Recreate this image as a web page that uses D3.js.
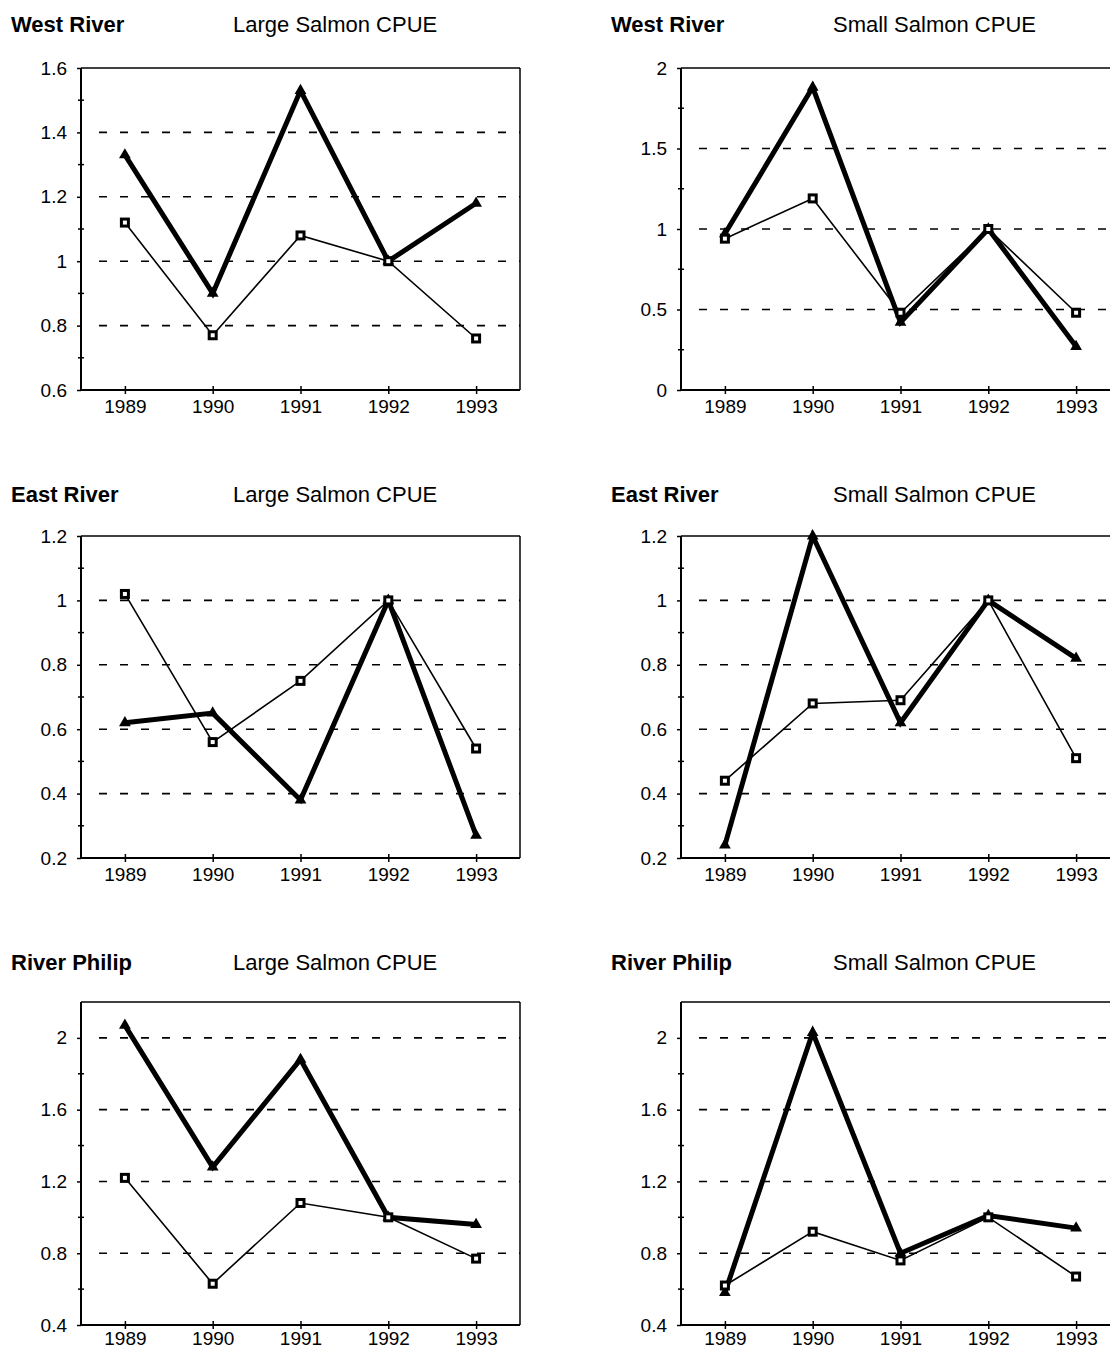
<!DOCTYPE html>
<html>
<head>
<meta charset="utf-8">
<script src="https://cdn.jsdelivr.net/npm/d3@7"></script>
<style>
  html, body { margin: 0; padding: 0; background: #fff; }
  svg { display: block; }
  text { font-family: "Liberation Sans", Arial, Helvetica, sans-serif; fill: #000; }
</style>
</head>
<body>
<svg id="chart" width="1110" height="1351"></svg>
<script>
// ---------------- data ----------------
const years = ["1989", "1990", "1991", "1992", "1993"];
const rivers = ["West River", "East River", "River Philip"];
const sizeTitles = ["Large Salmon CPUE", "Small Salmon CPUE"];

// thick line with triangle markers
const westLargeTri  = [1.33, 0.90, 1.53, 1.00, 1.18];
const westSmallTri  = [0.97, 1.88, 0.42, 1.00, 0.27];
const eastLargeTri  = [0.62, 0.65, 0.38, 1.00, 0.27];
const eastSmallTri  = [0.24, 1.20, 0.62, 1.00, 0.82];
const philipLargeTri = [2.07, 1.28, 1.88, 1.00, 0.96];
const philipSmallTri = [0.58, 2.03, 0.80, 1.01, 0.94];

// thin line with square markers
const westLargeSq  = [1.12, 0.77, 1.08, 1.00, 0.76];
const westSmallSq  = [0.94, 1.19, 0.48, 1.00, 0.48];
const eastLargeSq  = [1.02, 0.56, 0.75, 1.00, 0.54];
const eastSmallSq  = [0.44, 0.68, 0.69, 1.00, 0.51];
const philipLargeSq = [1.22, 0.63, 1.08, 1.00, 0.77];
const philipSmallSq = [0.62, 0.92, 0.76, 1.00, 0.67];

// y axes: domains, labelled ticks, dashed grid values, minor ticks
const westLargeDomain = [0.6, 1.6];
const westSmallDomain = [0, 2];
const eastDomain = [0.2, 1.2];
const philipDomain = [0.4, 2.2];

const westLargeTicks = [0.6, 0.8, 1, 1.2, 1.4, 1.6];
const westSmallTicks = [0, 0.5, 1, 1.5, 2];
const eastTicks = [0.2, 0.4, 0.6, 0.8, 1, 1.2];
const philipTicks = [0.4, 0.8, 1.2, 1.6, 2];

const westLargeGrid = [0.8, 1, 1.2, 1.4];
const westSmallGrid = [0.5, 1, 1.5];
const eastGrid = [0.4, 0.6, 0.8, 1];
const philipGrid = [0.8, 1.2, 1.6, 2];

const westLargeMinor = [0.7, 0.9, 1.1, 1.3, 1.5];
const westSmallMinor = [0.25, 0.75, 1.25, 1.75];
const eastMinor = [0.3, 0.5, 0.7, 0.9, 1.1];
const philipMinor = [0.6, 1.0, 1.4, 1.8];

const panels = [
  { row: 0, col: 0, tri: westLargeTri,  sq: westLargeSq,  domain: westLargeDomain, ticks: westLargeTicks, grid: westLargeGrid, minor: westLargeMinor },
  { row: 0, col: 1, tri: westSmallTri,  sq: westSmallSq,  domain: westSmallDomain, ticks: westSmallTicks, grid: westSmallGrid, minor: westSmallMinor },
  { row: 1, col: 0, tri: eastLargeTri,  sq: eastLargeSq,  domain: eastDomain, ticks: eastTicks, grid: eastGrid, minor: eastMinor },
  { row: 1, col: 1, tri: eastSmallTri,  sq: eastSmallSq,  domain: eastDomain, ticks: eastTicks, grid: eastGrid, minor: eastMinor },
  { row: 2, col: 0, tri: philipLargeTri, sq: philipLargeSq, domain: philipDomain, ticks: philipTicks, grid: philipGrid, minor: philipMinor },
  { row: 2, col: 1, tri: philipSmallTri, sq: philipSmallSq, domain: philipDomain, ticks: philipTicks, grid: philipGrid, minor: philipMinor }
];

// ---------------- layout ----------------
const cols = [{ x0: 81, x1: 520 }, { x0: 681, x1: 1120 }];
const rows = [
  { top: 68, bottom: 390, titleY: 32, pad: 6 },
  { top: 536, bottom: 858, titleY: 502, pad: 6 },
  { top: 1002, bottom: 1325, titleY: 970, pad: 3 }
];

const svg = d3.select("#chart");
const fmt = d3.format("~g");

panels.forEach(p => {
  const c = cols[p.col], r = rows[p.row];
  const x = d3.scalePoint().domain(years).range([c.x0, c.x1]).padding(0.5);
  const y = d3.scaleLinear().domain(p.domain).range([r.bottom, r.top]);
  const g = svg.append("g");

  // titles
  g.append("text").attr("x", c.x0 - 70).attr("y", r.titleY)
    .attr("font-size", 22).attr("font-weight", "bold").text(rivers[p.row]);
  g.append("text").attr("x", c.x0 + 152).attr("y", r.titleY)
    .attr("font-size", 22).text(sizeTitles[p.col]);

  // dashed grid
  g.selectAll(".grid").data(p.grid).enter().append("line")
    .attr("x1", c.x0 + 18).attr("x2", c.x1)
    .attr("y1", d => y(d)).attr("y2", d => y(d))
    .attr("stroke", "#000").attr("stroke-width", 1.6)
    .attr("stroke-dasharray", "8,13");

  // frame: top and right
  g.append("line").attr("x1", c.x0).attr("x2", c.x1).attr("y1", r.top).attr("y2", r.top)
    .attr("stroke", "#000").attr("stroke-width", 1.5);
  g.append("line").attr("x1", c.x1).attr("x2", c.x1).attr("y1", r.top).attr("y2", r.bottom)
    .attr("stroke", "#000").attr("stroke-width", 1.5);

  // y axis
  const yAxis = d3.axisLeft(y).tickValues(p.ticks).tickFormat(fmt).tickSize(4).tickPadding(10);
  const ya = g.append("g").attr("transform", `translate(${c.x0},0)`).call(yAxis);
  ya.select(".domain").attr("stroke-width", 2).attr("d", `M0,${r.top}V${r.bottom}`);
  ya.selectAll(".tick line").attr("stroke-width", 1.5);
  ya.selectAll(".tick text").attr("font-size", 19).attr("fill", "#000")
    .style("font-family", '"Liberation Sans", Arial, sans-serif');

  // minor y ticks
  g.selectAll(".minor").data(p.minor).enter().append("line")
    .attr("x1", c.x0 - 3).attr("x2", c.x0 + 3)
    .attr("y1", d => y(d)).attr("y2", d => y(d))
    .attr("stroke", "#000").attr("stroke-width", 1.5);

  // x axis
  const xAxis = d3.axisBottom(x).tickSizeInner(4).tickSizeOuter(0).tickPadding(r.pad);
  const xa = g.append("g").attr("transform", `translate(0,${r.bottom})`).call(xAxis);
  xa.select(".domain").attr("stroke-width", 2).attr("d", `M${c.x0},0H${c.x1}`);
  xa.selectAll(".tick line").attr("stroke-width", 1.5).attr("y1", -4).attr("y2", 4);
  xa.selectAll(".tick text").attr("font-size", 19).attr("fill", "#000")
    .style("font-family", '"Liberation Sans", Arial, sans-serif');

  const line = d3.line().x((d, i) => x(years[i])).y(d => y(d));

  // thick series
  g.append("path").datum(p.tri).attr("d", line)
    .attr("fill", "none").attr("stroke", "#000").attr("stroke-width", 5)
    .attr("stroke-linejoin", "miter");
  // thin series
  g.append("path").datum(p.sq).attr("d", line)
    .attr("fill", "none").attr("stroke", "#000").attr("stroke-width", 1.6);

  // triangles
  const tri = d3.symbol().type(d3.symbolTriangle).size(60);
  g.selectAll(".tri").data(p.tri).enter().append("path")
    .attr("d", tri)
    .attr("transform", (d, i) => `translate(${x(years[i])},${y(d)})`)
    .attr("fill", "#000");

  // squares
  g.selectAll(".sq").data(p.sq).enter().append("rect")
    .attr("x", (d, i) => x(years[i]) - 3.5)
    .attr("y", d => y(d) - 3.5)
    .attr("width", 7).attr("height", 7)
    .attr("fill", "#fff").attr("stroke", "#000").attr("stroke-width", 3);
});
</script>
</body>
</html>
